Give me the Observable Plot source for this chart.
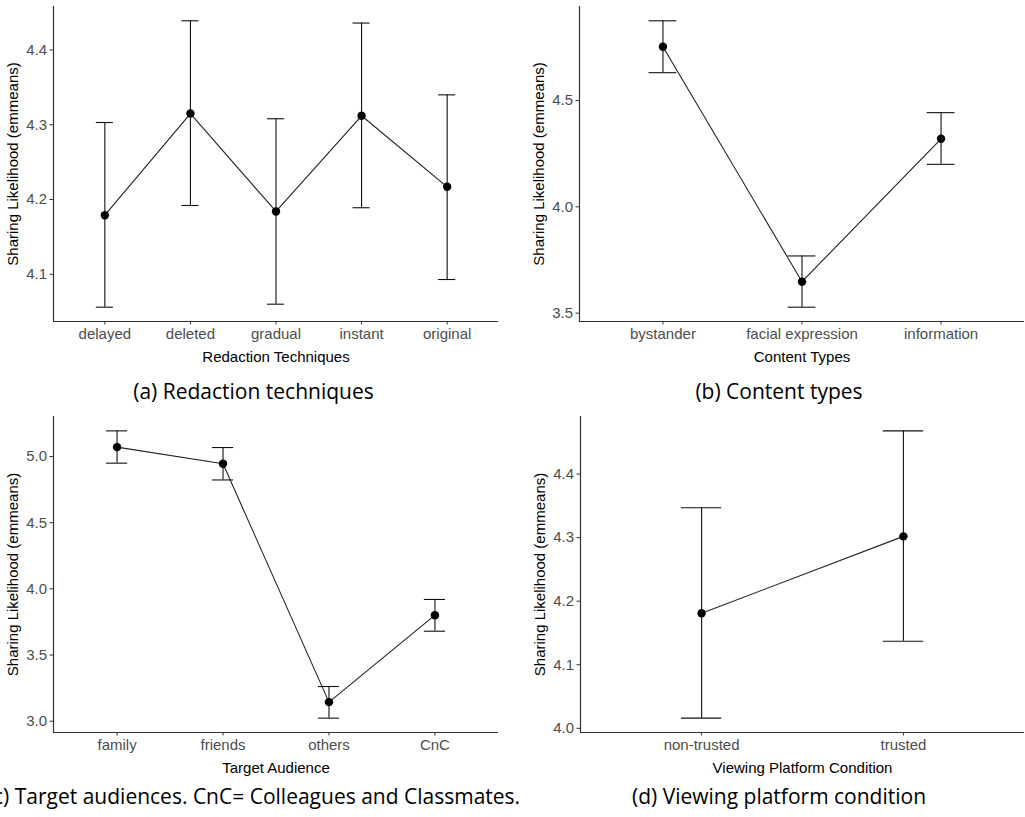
<!DOCTYPE html>
<html>
<head>
<meta charset="utf-8">
<script src="https://cdn.jsdelivr.net/npm/d3@7"></script>
<script src="https://cdn.jsdelivr.net/npm/@observablehq/plot@0.6"></script>
<style>
  html, body { margin: 0; padding: 0; background: #fff; }
  #root { position: relative; width: 1025px; height: 817px; overflow: hidden; background: #fff; }
  .panel { position: absolute; }
  .cap { position: absolute; width: 700px; text-align: center; font-family: "Open Sans", Lato, sans-serif; font-size: 21px; color: #000; white-space: nowrap; line-height: 1; }
</style>
</head>
<body>
<div id="root"></div>
<script>
// ---- Data (estimated marginal means with 95% CI) ----
const redactionCats = ["delayed", "deleted", "gradual", "instant", "original"];
const redactionMean = [4.179, 4.315, 4.184, 4.312, 4.217];
const redactionLo   = [4.056, 4.192, 4.060, 4.189, 4.093];
const redactionHi   = [4.303, 4.439, 4.308, 4.436, 4.340];
const redactionTicks = [4.1, 4.2, 4.3, 4.4];

const contentCats = ["bystander", "facial expression", "information"];
const contentMean = [4.753, 3.648, 4.320];
const contentLo   = [4.631, 3.528, 4.200];
const contentHi   = [4.875, 3.769, 4.443];
const contentTicks = [3.5, 4.0, 4.5];

const audienceCats = ["family", "friends", "others", "CnC"];
const audienceMean = [5.071, 4.945, 3.144, 3.801];
const audienceLo   = [4.950, 4.823, 3.023, 3.680];
const audienceHi   = [5.194, 5.068, 3.262, 3.920];
const audienceTicks = [3.0, 3.5, 4.0, 4.5, 5.0];

const platformCats = ["non-trusted", "trusted"];
const platformMean = [4.181, 4.302];
const platformLo   = [4.016, 4.137];
const platformHi   = [4.347, 4.468];
const platformTicks = [4.0, 4.1, 4.2, 4.3, 4.4];

const yTitle = "Sharing Likelihood (emmeans)";

function panel(o) {
  const data = o.cats.map((c, i) => ({i, c, m: o.mean[i], lo: o.lo[i], hi: o.hi[i]}));
  const n = o.cats.length;
  const lo = d3.min(o.lo), hi = d3.max(o.hi), pad = (hi - lo) * 0.05;
  const ydom = [lo - pad, hi + pad];
  const xdom = [-0.6, n - 1 + 0.6];
  const font = "Liberation Sans, Arial, sans-serif";
  return Plot.plot({
    width: o.width, height: o.height,
    marginLeft: o.ml, marginRight: o.mr, marginTop: o.mt, marginBottom: o.mb,
    style: {fontFamily: font, background: "transparent", overflow: "visible"},
    x: {domain: xdom},
    y: {domain: ydom},
    marks: [
      Plot.axisX({ticks: d3.range(n), tickFormat: i => o.cats[i], tickSize: 3.5, tickPadding: 3,
                  fontSize: 15, fontFamily: font, stroke: "#333", fill: "#4d4d4d", label: null}),
      Plot.axisY({ticks: o.ticks, tickFormat: d3.format(".1f"), tickSize: 3.5, tickPadding: 3,
                  fontSize: 15, fontFamily: font, stroke: "#333", fill: "#4d4d4d", label: null}),
      Plot.ruleY([ydom[0]], {stroke: "#333", strokeWidth: 1.2}),
      Plot.ruleX([xdom[0]], {stroke: "#333", strokeWidth: 1.2}),
      Plot.ruleX(data, {x: "i", y1: "lo", y2: "hi", stroke: "#111", strokeWidth: 1.1}),
      Plot.ruleY(data, {y: "hi", x1: d => d.i - 0.1, x2: d => d.i + 0.1, stroke: "#111", strokeWidth: 1.1}),
      Plot.ruleY(data, {y: "lo", x1: d => d.i - 0.1, x2: d => d.i + 0.1, stroke: "#111", strokeWidth: 1.1}),
      Plot.line(data, {x: "i", y: "m", stroke: "#222", strokeWidth: 1.1}),
      Plot.dot(data, {x: "i", y: "m", r: 4.2, fill: "#000", stroke: null}),
      Plot.text([o.xTitle], {text: d => d, frameAnchor: "bottom", lineAnchor: "middle", textAnchor: "middle",
                             dy: 36, fontSize: 15, fontFamily: font, fill: "#000"}),
      Plot.text([yTitle], {text: d => d, frameAnchor: "left", lineAnchor: "middle", textAnchor: "middle",
                           dx: -40, rotate: -90, fontSize: 15, fontFamily: font, fill: "#000"})
    ]
  });
}

const root = document.getElementById("root");
function place(el, left, top) {
  const d = document.createElement("div");
  d.className = "panel";
  d.style.left = left + "px";
  d.style.top = top + "px";
  d.appendChild(el);
  root.appendChild(d);
}
function caption(text, cx, top) {
  const d = document.createElement("div");
  d.className = "cap";
  d.textContent = text;
  d.style.left = (cx - 350) + "px";
  d.style.top = top + "px";
  root.appendChild(d);
}

place(panel({cats: redactionCats, mean: redactionMean, lo: redactionLo, hi: redactionHi, ticks: redactionTicks,
  xTitle: "Redaction Techniques", width: 512, height: 372, ml: 53, mr: 14, mt: 6, mb: 51}), 0, 0);
place(panel({cats: contentCats, mean: contentMean, lo: contentLo, hi: contentHi, ticks: contentTicks,
  xTitle: "Content Types", width: 513, height: 372, ml: 67, mr: 1, mt: 6, mb: 51}), 512, 0);
place(panel({cats: audienceCats, mean: audienceMean, lo: audienceLo, hi: audienceHi, ticks: audienceTicks,
  xTitle: "Target Audience", width: 512, height: 380, ml: 53, mr: 14, mt: 16, mb: 48}), 0, 400);
place(panel({cats: platformCats, mean: platformMean, lo: platformLo, hi: platformHi, ticks: platformTicks,
  xTitle: "Viewing Platform Condition", width: 513, height: 380, ml: 68, mr: 1, mt: 16, mb: 48}), 512, 400);

caption("(a) Redaction techniques", 253.5, 381);
caption("(b) Content types", 779, 381);
caption("(c) Target audiences. CnC= Colleagues and Classmates.", 253.5, 786);
caption("(d) Viewing platform condition", 779, 786);
</script>
</body>
</html>
